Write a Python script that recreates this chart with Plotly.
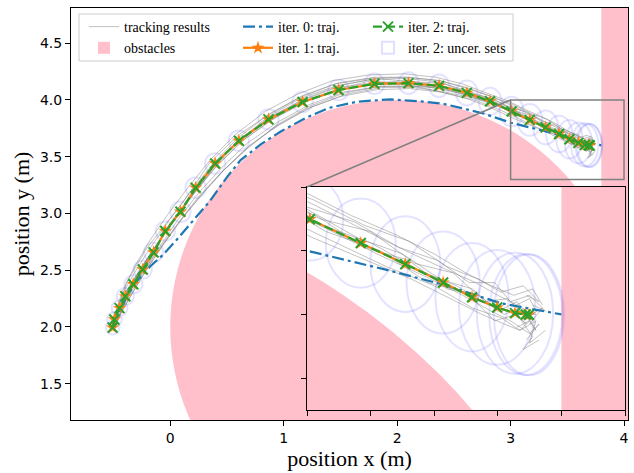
import plotly.graph_objects as go

# ---------------- data ----------------
# iteration 0 trajectory (blue dash-dot)
iter0_x = [-0.50, -0.44, -0.37, -0.29, -0.18, -0.07, 0.05, 0.19, 0.35, 0.50, 0.62, 0.80, 0.97,
           1.20, 1.40, 1.65, 1.94, 2.23, 2.41, 2.56, 2.76, 3.00, 3.25, 3.43, 3.61, 3.80]
iter0_y = [2.00, 2.16, 2.29, 2.41, 2.53, 2.63, 2.76, 2.92, 3.11, 3.32, 3.47, 3.61, 3.72,
           3.845, 3.93, 3.985, 4.005, 3.985, 3.965, 3.93, 3.88, 3.80, 3.74, 3.693, 3.635, 3.60]

# iteration 1 trajectory (orange, stars)
iter1_x = [-0.508, -0.493, -0.447, -0.396, -0.326, -0.242, -0.147, -0.044, 0.090, 0.224, 0.396,
           0.605, 0.866, 1.166, 1.483, 1.800, 2.100, 2.370, 2.614, 2.819, 3.009, 3.169, 3.309,
           3.428, 3.519, 3.598, 3.654, 3.688, 3.698]
iter1_y = [1.994, 2.066, 2.166, 2.270, 2.376, 2.506, 2.657, 2.845, 3.015, 3.226, 3.440,
           3.640, 3.829, 3.982, 4.088, 4.142, 4.148, 4.124, 4.062, 3.988, 3.899, 3.824, 3.758,
           3.700, 3.654, 3.622, 3.604, 3.600, 3.599]

# iteration 2 trajectory (green dashed, x markers)
iter2_x = [-0.508, -0.493, -0.447, -0.396, -0.326, -0.242, -0.147, -0.044, 0.090, 0.224, 0.396,
           0.605, 0.866, 1.166, 1.483, 1.800, 2.100, 2.370, 2.614, 2.819, 3.009, 3.169, 3.309,
           3.428, 3.519, 3.598, 3.654, 3.688, 3.698]
iter2_y = [1.994, 2.066, 2.166, 2.270, 2.376, 2.506, 2.657, 2.845, 3.015, 3.226, 3.440,
           3.640, 3.829, 3.982, 4.088, 4.142, 4.148, 4.124, 4.062, 3.988, 3.899, 3.824, 3.758,
           3.700, 3.654, 3.622, 3.604, 3.600, 3.599]

# iteration 2 uncertainty sets: semi-axes of the ellipse at each trajectory point
unc_rx = [0.06, 0.065, 0.07, 0.075, 0.08, 0.08, 0.085, 0.085, 0.09, 0.09, 0.09, 0.09, 0.09, 0.09,
          0.09, 0.09, 0.09, 0.09, 0.095, 0.10, 0.105, 0.11, 0.11, 0.115, 0.115, 0.12, 0.12, 0.115, 0.11]
unc_ry = [0.06, 0.065, 0.07, 0.075, 0.08, 0.08, 0.085, 0.085, 0.09, 0.09, 0.09, 0.09, 0.09, 0.09,
          0.09, 0.09, 0.095, 0.10, 0.11, 0.12, 0.13, 0.14, 0.15, 0.16, 0.17, 0.18, 0.19, 0.19, 0.19]

# tracking results (a sample of the closed-loop runs)
track_a_x = [-0.51, -0.46, -0.38, -0.21, -0.03, 0.12, 0.35, 0.60, 0.88, 1.17, 1.48, 1.80, 2.10, 2.38, 2.62, 2.83, 3.01, 3.17, 3.31, 3.44, 3.53, 3.60, 3.66, 3.70, 3.72]
track_a_y = [1.99, 2.18, 2.40, 2.69, 2.92, 3.11, 3.45, 3.69, 3.88, 4.04, 4.15, 4.20, 4.20, 4.17, 4.10, 4.03, 3.95, 3.87, 3.80, 3.74, 3.70, 3.66, 3.63, 3.65, 3.61]
track_b_x = [-0.50, -0.43, -0.33, -0.18, -0.03, 0.13, 0.30, 0.48, 0.68, 0.92, 1.20, 1.50, 1.82, 2.11, 2.38, 2.62, 2.83, 3.02, 3.19, 3.33, 3.45, 3.55, 3.62, 3.67, 3.70, 3.66]
track_b_y = [1.99, 2.15, 2.33, 2.57, 2.78, 2.99, 3.19, 3.39, 3.58, 3.76, 3.92, 4.03, 4.09, 4.10, 4.07, 4.01, 3.93, 3.84, 3.77, 3.71, 3.65, 3.60, 3.57, 3.55, 3.58, 3.56]
track_c_x = [-0.52, -0.47, -0.40, -0.28, -0.15, 0.00, 0.16, 0.36, 0.58, 0.85, 1.15, 1.47, 1.79, 2.08, 2.36, 2.60, 2.82, 3.00, 3.16, 3.30, 3.42, 3.52, 3.60, 3.66, 3.71, 3.68]
track_c_y = [2.00, 2.12, 2.29, 2.47, 2.68, 2.90, 3.12, 3.38, 3.62, 3.83, 3.99, 4.11, 4.15, 4.17, 4.13, 4.08, 4.00, 3.93, 3.84, 3.79, 3.71, 3.68, 3.61, 3.64, 3.58, 3.62]
track_d_x = [-0.50, -0.45, -0.36, -0.24, -0.10, 0.05, 0.23, 0.42, 0.64, 0.90, 1.18, 1.50, 1.82, 2.12, 2.40, 2.63, 2.85, 3.04, 3.20, 3.34, 3.46, 3.56, 3.63, 3.69, 3.74, 3.70]
track_d_y = [2.00, 2.20, 2.36, 2.55, 2.75, 2.98, 3.22, 3.46, 3.66, 3.86, 4.01, 4.13, 4.19, 4.16, 4.15, 4.06, 4.01, 3.90, 3.86, 3.76, 3.73, 3.64, 3.65, 3.59, 3.62, 3.57]
track_e_x = [-0.49, -0.44, -0.35, -0.22, -0.08, 0.08, 0.26, 0.46, 0.70, 0.96, 1.25, 1.55, 1.86, 2.15, 2.42, 2.66, 2.88, 3.06, 3.22, 3.37, 3.49, 3.58, 3.64, 3.70, 3.73, 3.69]
track_e_y = [1.99, 2.11, 2.27, 2.49, 2.70, 2.93, 3.16, 3.37, 3.60, 3.78, 3.94, 4.05, 4.11, 4.11, 4.07, 4.02, 3.95, 3.87, 3.79, 3.72, 3.66, 3.61, 3.58, 3.54, 3.57, 3.52]
track_f_x = [-0.51, -0.48, -0.42, -0.31, -0.18, -0.03, 0.15, 0.36, 0.58, 0.84, 1.12, 1.43, 1.75, 2.06, 2.34, 2.58, 2.79, 2.98, 3.14, 3.28, 3.40, 3.50, 3.58, 3.65, 3.71, 3.74]
track_f_y = [2.01, 2.14, 2.32, 2.54, 2.76, 2.98, 3.22, 3.48, 3.70, 3.90, 4.05, 4.17, 4.22, 4.23, 4.20, 4.14, 4.06, 3.99, 3.91, 3.85, 3.79, 3.73, 3.69, 3.66, 3.68, 3.63]
track_g_x = [-0.50, -0.44, -0.37, -0.26, -0.12, 0.03, 0.20, 0.40, 0.62, 0.87, 1.16, 1.46, 1.77, 2.08, 2.37, 2.61, 2.84, 3.03, 3.18, 3.32, 3.44, 3.54, 3.62, 3.67, 3.72, 3.69]
track_g_y = [2.00, 2.17, 2.33, 2.51, 2.72, 2.94, 3.17, 3.41, 3.63, 3.81, 3.98, 4.09, 4.17, 4.13, 4.11, 4.04, 3.97, 3.91, 3.81, 3.77, 3.68, 3.66, 3.60, 3.62, 3.55, 3.60]
track_h_x = [-0.51, -0.45, -0.37, -0.25, -0.11, 0.05, 0.22, 0.42, 0.65, 0.92, 1.21, 1.52, 1.84, 2.14, 2.41, 2.65, 2.86, 3.05, 3.21, 3.35, 3.47, 3.57, 3.64, 3.69, 3.66, 3.72]
track_h_y = [1.99, 2.13, 2.30, 2.52, 2.73, 2.97, 3.19, 3.43, 3.65, 3.84, 3.99, 4.10, 4.14, 4.14, 4.09, 4.04, 3.96, 3.88, 3.82, 3.74, 3.69, 3.63, 3.61, 3.57, 3.60, 3.60]
track_i_x = [-0.50, -0.46, -0.39, -0.27, -0.14, 0.02, 0.19, 0.38, 0.60, 0.86, 1.14, 1.45, 1.77, 2.07, 2.35, 2.59, 2.80, 2.99, 3.15, 3.29, 3.41, 3.51, 3.59, 3.64, 3.70, 3.75, 3.71]
track_i_y = [2.00, 2.14, 2.31, 2.50, 2.70, 2.92, 3.15, 3.40, 3.64, 3.85, 4.01, 4.12, 4.18, 4.19, 4.16, 4.09, 4.02, 3.94, 3.89, 3.81, 3.77, 3.70, 3.70, 3.64, 3.66, 3.61, 3.63]
track_j_x = [-0.50, -0.44, -0.36, -0.23, -0.09, 0.07, 0.25, 0.45, 0.68, 0.94, 1.23, 1.53, 1.85, 2.14, 2.42, 2.66, 2.87, 3.06, 3.23, 3.38, 3.50, 3.59, 3.66, 3.71, 3.68, 3.73]
track_j_y = [1.99, 2.12, 2.30, 2.50, 2.71, 2.95, 3.18, 3.40, 3.62, 3.80, 3.96, 4.07, 4.12, 4.12, 4.10, 4.03, 3.97, 3.86, 3.80, 3.70, 3.67, 3.58, 3.60, 3.53, 3.49, 3.52]
track_k_x = [-0.51, -0.47, -0.40, -0.29, -0.16, -0.01, 0.17, 0.37, 0.59, 0.85, 1.14, 1.45, 1.77, 2.08, 2.37, 2.61, 2.83, 3.02, 3.18, 3.32, 3.44, 3.54, 3.61, 3.68, 3.73, 3.69]
track_k_y = [2.00, 2.16, 2.33, 2.52, 2.72, 2.94, 3.18, 3.43, 3.66, 3.86, 4.02, 4.14, 4.19, 4.20, 4.17, 4.11, 4.03, 3.96, 3.88, 3.83, 3.75, 3.71, 3.67, 3.69, 3.64, 3.66]
track_l_x = [-0.49, -0.43, -0.34, -0.20, -0.05, 0.11, 0.28, 0.47, 0.69, 0.94, 1.22, 1.53, 1.85, 2.16, 2.43, 2.68, 2.89, 3.08, 3.25, 3.40, 3.52, 3.61, 3.67, 3.72, 3.70, 3.75]
track_l_y = [1.99, 2.13, 2.29, 2.52, 2.74, 2.96, 3.17, 3.38, 3.58, 3.78, 3.94, 4.06, 4.12, 4.12, 4.06, 4.00, 3.92, 3.83, 3.75, 3.69, 3.62, 3.59, 3.55, 3.58, 3.51, 3.55]

tracks = [(track_a_x, track_a_y), (track_b_x, track_b_y), (track_c_x, track_c_y),
          (track_d_x, track_d_y), (track_e_x, track_e_y), (track_f_x, track_f_y),
          (track_g_x, track_g_y), (track_h_x, track_h_y), (track_i_x, track_i_y),
          (track_j_x, track_j_y), (track_k_x, track_k_y), (track_l_x, track_l_y)]

# obstacles
circ_cx, circ_cy, circ_r = 2.0, 2.0, 2.0
wall_x0 = 3.8

# axes
main_xrange = [-0.875, 4.035]
main_yrange = [1.18, 4.81]
inset_xrange = [3.0, 4.0]
inset_yrange = [3.3, 4.0]
main_xticks = [0, 1, 2, 3, 4]
main_yticks = [1.5, 2.0, 2.5, 3.0, 3.5, 4.0, 4.5]
main_yticktext = ["1.5", "2.0", "2.5", "3.0", "3.5", "4.0", "4.5"]
inset_xticks = [3.0, 3.2, 3.4, 3.6, 3.8, 4.0]
inset_yticks = [3.4, 3.6, 3.8, 4.0]

# ---------------- figure ----------------
W, H = 634, 473
ML, MR, MT, MB = 71, 6, 8, 53
PW, PH = W - ML - MR, H - MT - MB

def px_to_paper(px, py):
    return (px - ML) / PW, (H - MB - py) / PH

def data_to_paper(x, y):
    return ((x - main_xrange[0]) / (main_xrange[1] - main_xrange[0]),
            (y - main_yrange[0]) / (main_yrange[1] - main_yrange[0]))

ix0, iy1 = px_to_paper(307, 187)
ix1, iy0 = px_to_paper(625, 410)

SERIF = "Liberation Serif"
SANS = "DejaVu Sans"
BLUE, ORANGE, GREEN = "#1f77b4", "#ff7f0e", "#2ca02c"
PINK = "#ffc0cb"
UNC = "rgba(40,40,255,0.13)"

fig = go.Figure()

def add_all(xa, ya, main):
    for i, (tx, ty) in enumerate(tracks):
        fig.add_trace(go.Scatter(
            x=tx, y=ty, mode="lines", xaxis=xa, yaxis=ya,
            line=dict(color="rgba(120,120,120,0.45)", width=1.0),
            name="tracking results", legendgroup="track", legend="legend",
            showlegend=(main and i == 0), hoverinfo="skip"))
    fig.add_trace(go.Scatter(
        x=iter0_x, y=iter0_y, mode="lines", xaxis=xa, yaxis=ya,
        line=dict(color=BLUE, width=2.2, dash="12px,4px,3px,4px"),
        name="iter. 0: traj.", legendgroup="i0", legend="legend2", showlegend=main))
    fig.add_trace(go.Scatter(
        x=iter1_x, y=iter1_y, mode="lines+markers", xaxis=xa, yaxis=ya,
        line=dict(color=ORANGE, width=2.2),
        marker=dict(symbol="star", size=10, color=ORANGE),
        name="iter. 1: traj.", legendgroup="i1", legend="legend2", showlegend=main))
    fig.add_trace(go.Scatter(
        x=iter2_x, y=iter2_y, mode="lines+markers", xaxis=xa, yaxis=ya,
        line=dict(color=GREEN, width=2.2, dash="9px,4px"),
        marker=dict(symbol="x-thin", size=10, color=GREEN, line=dict(color=GREEN, width=2)),
        name="iter. 2: traj.", legendgroup="i2", legend="legend3", showlegend=main))

add_all("x", "y", True)
add_all("x2", "y2", False)

shapes = []
for xr, yr, main in (("x", "y", True), ("x2", "y2", False)):
    shapes.append(dict(type="circle", xref=xr, yref=yr, layer="below",
                       x0=circ_cx - circ_r, x1=circ_cx + circ_r,
                       y0=circ_cy - circ_r, y1=circ_cy + circ_r,
                       fillcolor=PINK, line=dict(width=0), showlegend=False))
    shapes.append(dict(type="rect", xref=xr, yref=yr, layer="below",
                       x0=wall_x0, x1=10, y0=-10, y1=10,
                       fillcolor=PINK, line=dict(width=0), showlegend=False))
    for k, (cx, cy, rx, ry) in enumerate(zip(iter2_x, iter2_y, unc_rx, unc_ry)):
        shapes.append(dict(type="circle", xref=xr, yref=yr, layer="below",
                           x0=cx - rx, x1=cx + rx, y0=cy - ry, y1=cy + ry,
                           fillcolor="rgba(0,0,0,0)", line=dict(color=UNC, width=2),
                           showlegend=False))

# legend-only swatches (rectangles, placed outside the visible range)
shapes.append(dict(type="rect", xref="x", yref="y", layer="below",
                   x0=50, x1=51, y0=50, y1=51, fillcolor=PINK, line=dict(width=0),
                   name="obstacles", showlegend=True, legend="legend"))
shapes.append(dict(type="rect", xref="x", yref="y", layer="below",
                   x0=50, x1=51, y0=50, y1=51, fillcolor="rgba(0,0,0,0)",
                   line=dict(color="rgba(40,40,255,0.15)", width=2),
                   name="iter. 2: uncer. sets", showlegend=True, legend="legend3"))

# inset marker and connector
shapes.append(dict(type="rect", xref="x", yref="y", layer="above",
                   x0=inset_xrange[0], x1=inset_xrange[1], y0=inset_yrange[0], y1=inset_yrange[1],
                   line=dict(color="#808080", width=1.5), fillcolor="rgba(0,0,0,0)"))
cxp, cyp = data_to_paper(inset_xrange[0], inset_yrange[1])
shapes.append(dict(type="line", xref="paper", yref="paper", layer="above",
                   x0=ix0, y0=iy1, x1=cxp, y1=cyp, line=dict(color="#808080", width=1.5)))

# legend frame
lx0, ly1 = px_to_paper(79, 14)
lx1, ly0 = px_to_paper(513, 61)
shapes.append(dict(type="rect", xref="paper", yref="paper", layer="above",
                   x0=lx0, x1=lx1, y0=ly0, y1=ly1,
                   fillcolor="rgba(255,255,255,0.8)", line=dict(color="#cccccc", width=1)))

legend_common = dict(yanchor="top", xanchor="left", bgcolor="rgba(0,0,0,0)",
                     borderwidth=0, font=dict(family=SERIF, size=14, color="black"),
                     tracegroupgap=0, itemwidth=30, orientation="v")
l1x, ly = px_to_paper(84, 11)
l2x, _ = px_to_paper(238, 11)
l3x, _ = px_to_paper(368, 11)

axis_common = dict(showgrid=False, zeroline=False, showline=True, linecolor="black",
                   linewidth=1, mirror=True, ticks="outside", ticklen=5, tickwidth=1,
                   tickcolor="black")

fig.update_layout(
    width=W, height=H,
    margin=dict(l=ML, r=MR, t=MT, b=MB),
    paper_bgcolor="white", plot_bgcolor="white",
    shapes=shapes,
    legend=dict(x=l1x, y=ly, **legend_common),
    legend2=dict(x=l2x, y=ly, **legend_common),
    legend3=dict(x=l3x, y=ly, **legend_common),
    xaxis=dict(range=main_xrange, domain=[0, 1], tickvals=main_xticks,
               tickfont=dict(family=SANS, size=14, color="black"),
               title=dict(text="position x (m)", font=dict(family=SERIF, size=22, color="black"),
                          standoff=1),
               **axis_common),
    yaxis=dict(range=main_yrange, domain=[0, 1], tickvals=main_yticks, ticktext=main_yticktext,
               tickfont=dict(family=SANS, size=14, color="black"),
               title=dict(text="position y (m)", font=dict(family=SERIF, size=22, color="black"),
                          standoff=4),
               **axis_common),
    xaxis2=dict(range=inset_xrange, domain=[ix0, ix1], anchor="y2", tickvals=inset_xticks,
                showticklabels=False, **axis_common),
    yaxis2=dict(range=inset_yrange, domain=[iy0, iy1], anchor="x2", tickvals=inset_yticks,
                showticklabels=False, **axis_common),
)

fig.write_html("out.html", config={"displayModeBar": False},
               post_script="document.body.style.margin='0';")
